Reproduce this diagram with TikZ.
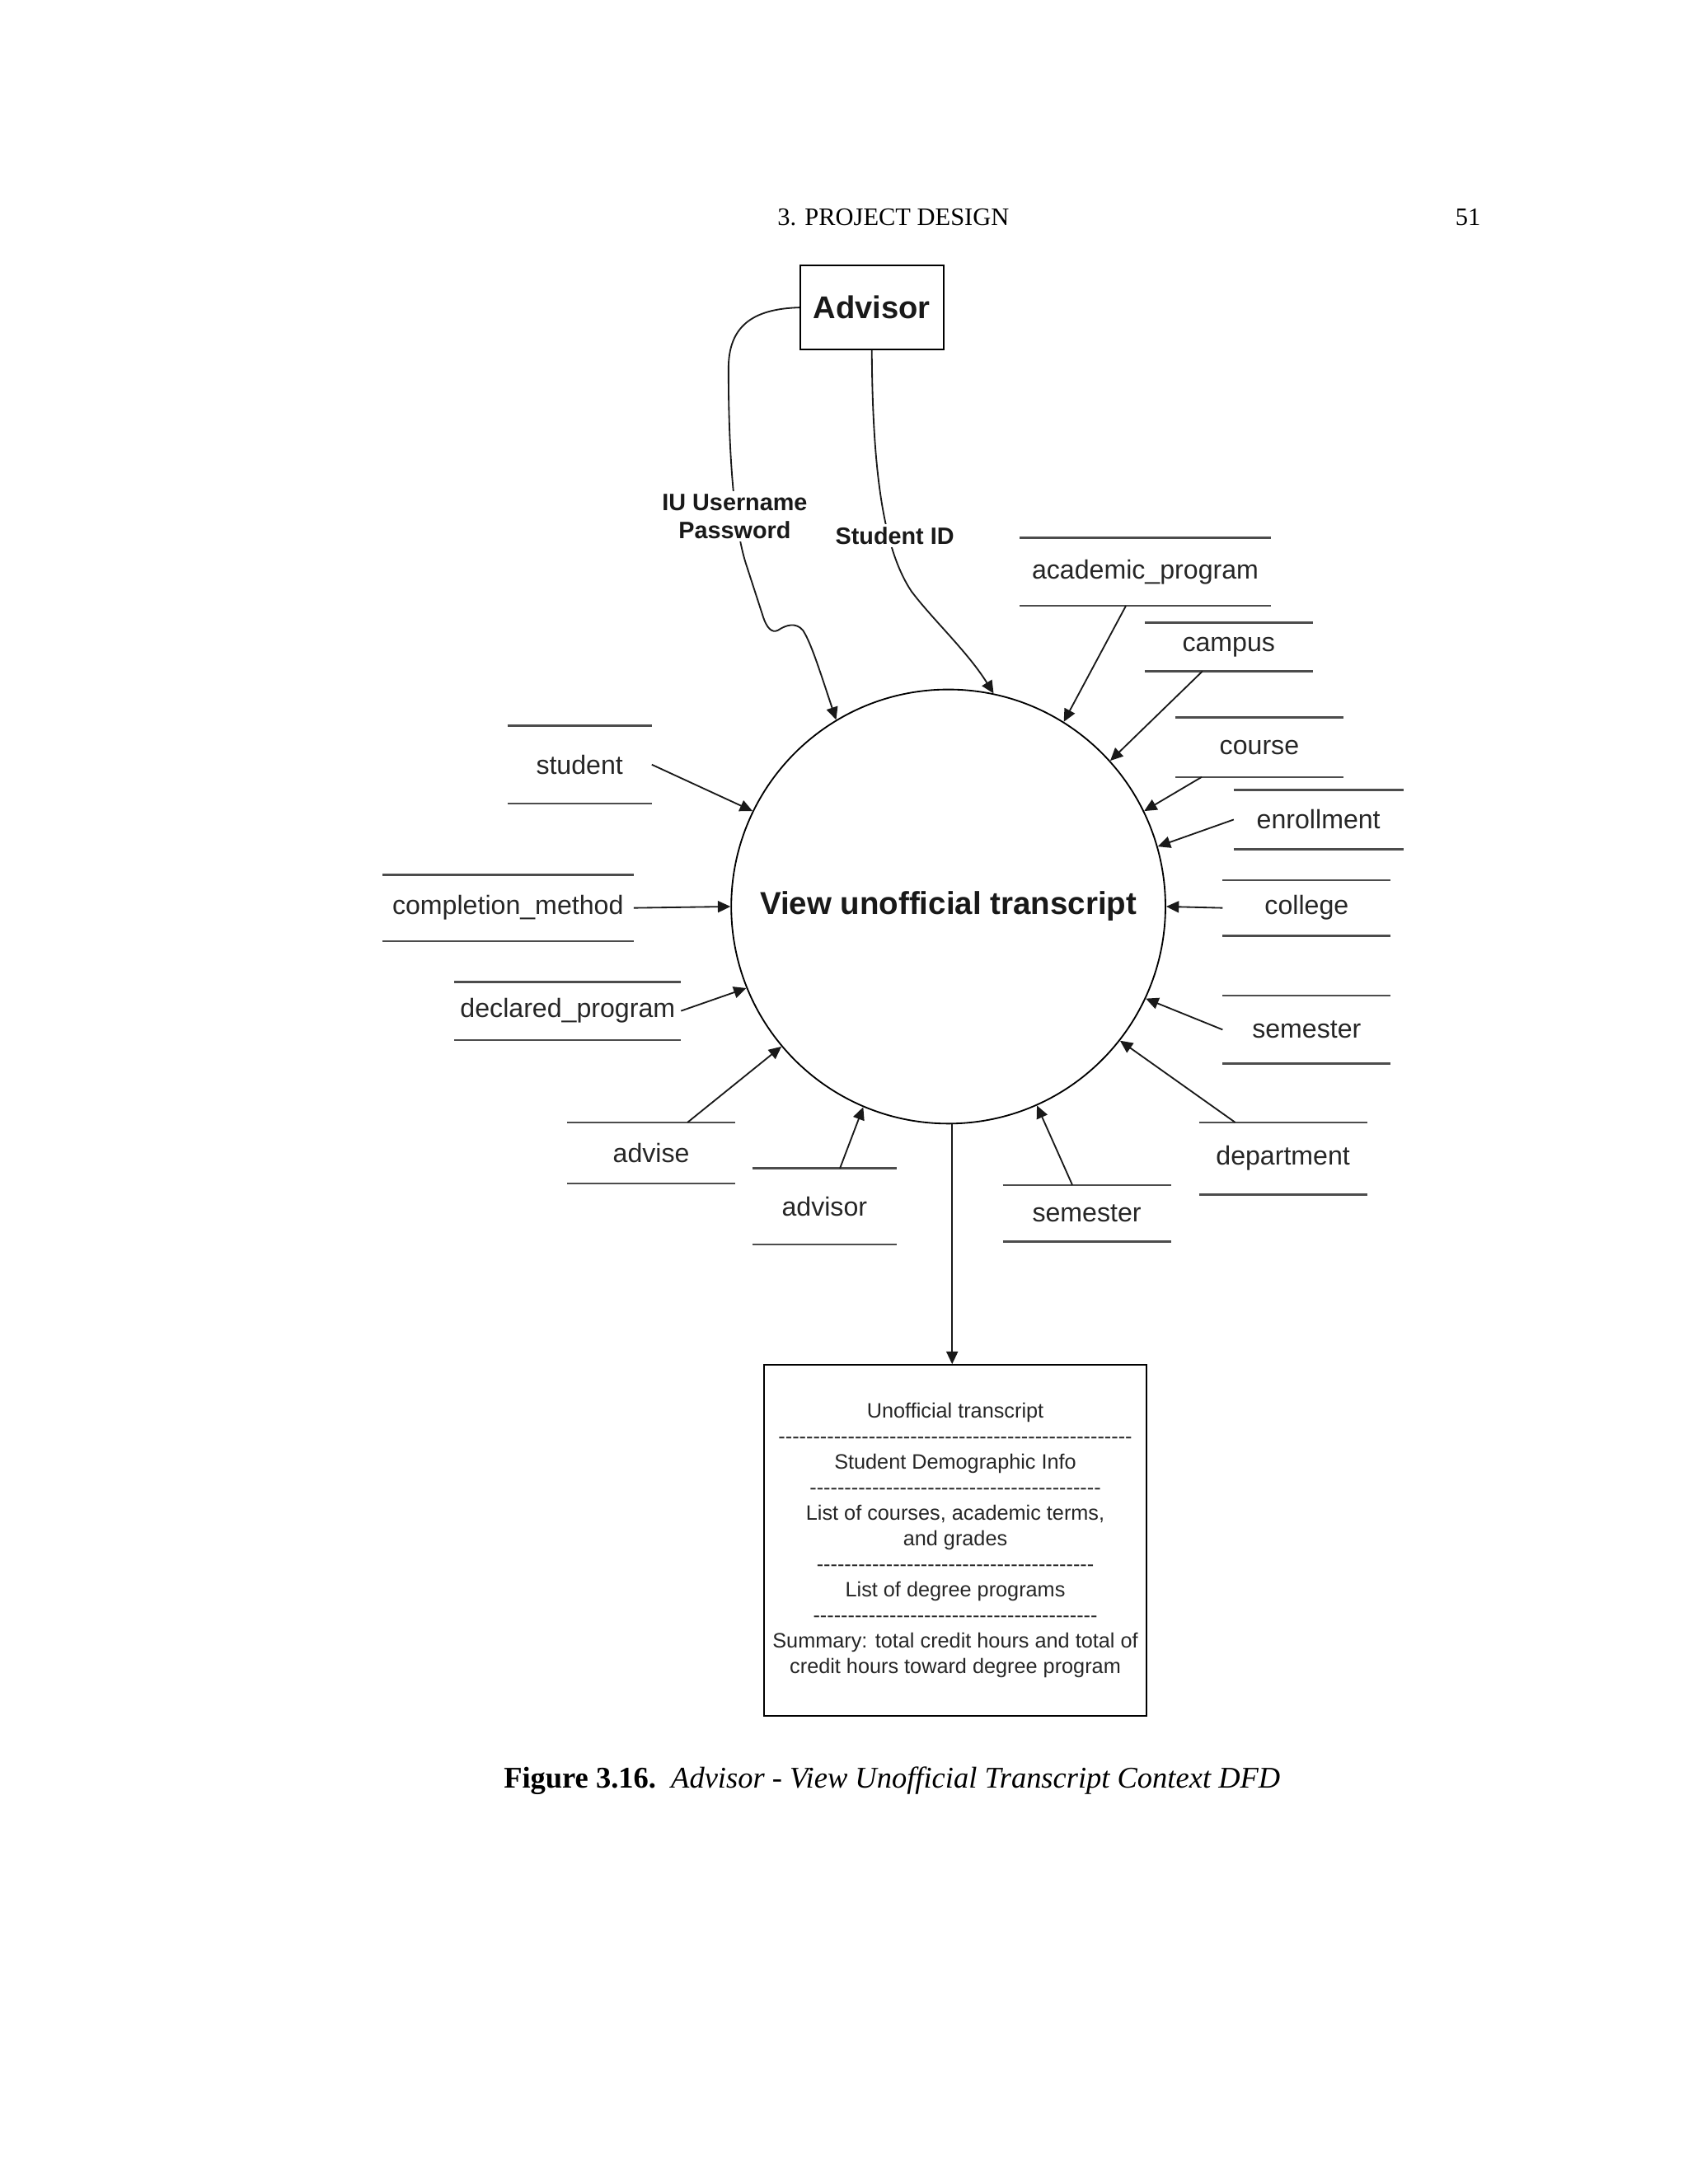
\documentclass[tikz,border=0pt]{standalone}
\usepackage{fontspec}
\setmainfont{Liberation Serif}
\newfontfamily\arial{Liberation Sans}
\usetikzlibrary{arrows.meta,calc}
\newcommand\hyrow[1]{{\count255=0 \loop-\kern0pt\advance\count255 by 1 \ifnum\count255<#1 \repeat}}
\newcommand\un{0.5045pt}
\begin{document}
\begin{tikzpicture}[x=0.5045pt,y=-0.5045pt,
  lbl/.style={font=\arial\fontsize{9.6}{11}\selectfont, text=black!85},
  store/.style 2 args={lbl, inner sep=0pt, minimum width=#1*\un, minimum height=#2*\un},
  flow/.style={-{Triangle[length=4.6pt,width=4.2pt]}, line width=0.55pt, black!90},
  sline/.style={line width=0.75pt, black!70},
  flowlbl/.style={fill=white, inner sep=1pt, align=center, text=black!90, font=\arial\bfseries\fontsize{8.6}{10.1}\selectfont}
]
\useasboundingbox (0,0) rectangle (1213,1569.6);

% page header
\node[font=\fontsize{9.1}{11}\selectfont] (hdr) at (642,156) {3. PROJECT DESIGN};
\node[font=\fontsize{9.1}{11}\selectfont] (pg) at (1055,156) {51};

% external entity and process
\node[draw, line width=0.6pt, minimum width=103*\un, minimum height=60*\un, inner sep=0pt,
      font=\arial\bfseries\fontsize{11.4}{13}\selectfont, text=black!90] (adv) at (626.5,221) {Advisor};
\node[circle, draw, line width=0.55pt, minimum size=312*\un, inner sep=0pt,
      font=\arial\bfseries\fontsize{11.5}{13}\selectfont, text=black!90] (proc) at (681.5,651.5) {View unofficial transcript};

% data stores
\node[store={180}{48}] (acad) at (823,411) {academic\_program};
\node[store={120}{34}] (campus) at (883,465) {campus};
\node[store={120}{42}] (course) at (905,537) {course};
\node[store={121}{42}] (enroll) at (947.5,589) {enrollment};
\node[store={120}{39}] (college) at (939,652.5) {college};
\node[store={120}{48}] (semR) at (939,740) {semester};
\node[store={120}{51}] (dept) at (922,832.5) {department};
\node[store={120}{40}] (semB) at (781,872) {semester};
\node[store={103}{54}] (advisorS) at (592.5,867) {advisor};
\node[store={120}{43}] (advise) at (468,828.5) {advise};
\node[store={162}{41}] (declared) at (408,726.5) {declared\_program};
\node[store={180}{47}] (compl) at (365,652.5) {completion\_method};
\node[store={103}{55}] (student) at (416.5,549.5) {student};

\foreach \n in {acad,campus,course,enroll,college,semR,dept,semB,advisorS,advise,declared,compl,student}
  \draw[sline] (\n.north west) -- (\n.north east) (\n.south west) -- (\n.south east);

% output report
\node[draw, line width=0.6pt, minimum width=275*\un, minimum height=252*\un, inner sep=0pt, align=center,
      font=\arial\fontsize{7.55}{9.26}\selectfont, text=black!85] (out) at (686.5,1107)
  {Unofficial transcript\\ \hyrow{51}\\ Student Demographic Info\\ \hyrow{42}\\
   List of courses, academic terms,\\ and grades\\ \hyrow{40}\\ List of degree programs\\ \hyrow{41}\\
   Summary: total credit hours and total of\\ credit hours toward degree program};

% flows from Advisor
\draw[flow] (adv.west) .. controls (540,222) and (523.5,235) .. (523.5,265)
  .. controls (523.5,330) and (528,380) .. (536,405) -- (548,442)
  .. controls (551,452) and (555,455) .. (559,453)
  .. controls (565,449) and (572,447) .. (577,453)
  .. controls (583,462) and (590,485) .. (proc.121.5);
\draw[flow] (adv.south) .. controls (627,340) and (635,395) .. (655,425)
  .. controls (670,445) and (695,468) .. (proc.78.7);
\node[flowlbl] (iu) at (528,371) {IU Username\\Password};
\node[flowlbl] (sid) at (643,385) {Student ID};

% flows from data stores
\draw[flow] ($(acad.south west)+(76.5,0)$) -- (proc.58.7);
\draw[flow] ($(campus.south west)+(41.5,0)$) -- (proc.42.5);
\draw[flow] ($(course.south west)+(19,0)$) -- (proc.26.8);
\draw[flow] (enroll.west) -- (proc.16.9);
\draw[flow] (college.west) -- (proc.east);
\draw[flow] (semR.west) -- (proc.335.3);
\draw[flow] ($(dept.north west)+(26,0)$) -- (proc.322.7);
\draw[flow] ($(semB.north west)+(50,0)$) -- (proc.294.6);
\draw[flow] ($(advisorS.north west)+(63,0)$) -- (proc.247.7);
\draw[flow] ($(advise.north west)+(86.5,0)$) -- (proc.220.2);
\draw[flow] (declared.east) -- (proc.202.2);
\draw[flow] (compl.east) -- (proc.west);
\draw[flow] (student.east) -- (proc.154.5);

% output
\draw[flow] (proc.271) -- (proc.271 |- out.north);

% caption
\node[font=\fontsize{10.9}{13}\selectfont] (cap) at (641,1280)
  {\textbf{Figure 3.16.}\ \ \textit{Advisor - View Unofficial Transcript Context DFD}};
\end{tikzpicture}
\end{document}
